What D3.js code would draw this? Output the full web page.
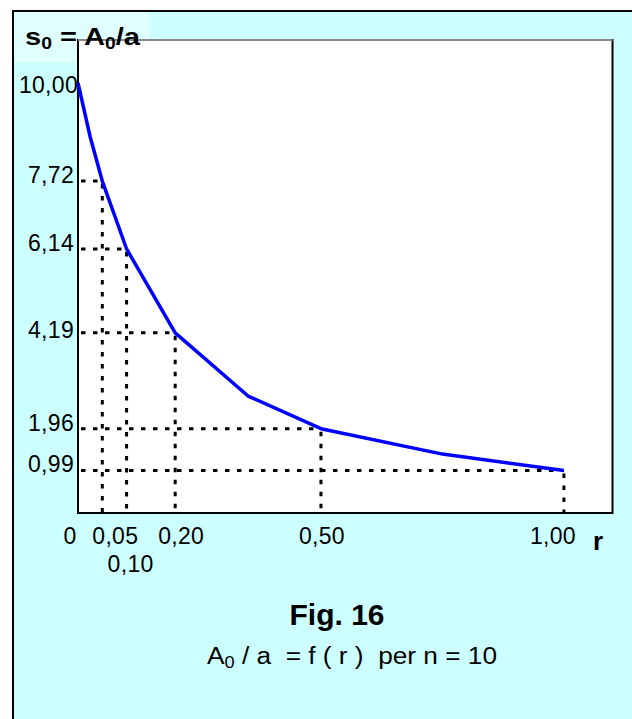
<!DOCTYPE html>
<html>
<head>
<meta charset="utf-8">
<script src="https://cdn.jsdelivr.net/npm/d3@7"></script>
<style>
  html, body { margin: 0; padding: 0; background: #ffffff; }
  svg { display: block; }
  text { font-family: Arial, "Liberation Sans", sans-serif; fill: #000; }
</style>
</head>
<body>
<svg id="chart" width="632" height="719"></svg>
<script>
// s0 = A0/a as a function of r, for n = 10
const rValues  = [0, 0.025, 0.05, 0.10, 0.20, 0.35, 0.50, 0.75, 1.00];
const s0Values = [10.00, 8.75, 7.72, 6.14, 4.19, 2.72, 1.96, 1.37, 0.99];

// points marked with dotted guide lines to both axes
const guideR = [0.05, 0.10, 0.20, 0.50, 1.00];

// axis labels
const yTickValues = [10.00, 7.72, 6.14, 4.19, 1.96, 0.99];
const yTickLabels = ["10,00", "7,72", "6,14", "4,19", "1,96", "0,99"];
const xTickValues = [0, 0.05, 0.10, 0.20, 0.50, 1.00];
const xTickLabels = ["0", "0,05", "0,10", "0,20", "0,50", "1,00"];

const svg = d3.select("#chart");
const W = 632, H = 719;
const plot = { left: 78, top: 40, right: 612.5, bottom: 513 };

const x = d3.scaleLinear().domain([0, 1.1]).range([plot.left, plot.right]);
const y = d3.scaleLinear().domain([0, 11]).range([plot.bottom, plot.top]);

// page background and frame
svg.append("rect").attr("x", 13).attr("y", 11).attr("width", W).attr("height", H)
  .attr("fill", "#ccffff");
svg.append("line").attr("x1", 12).attr("x2", W).attr("y1", 11).attr("y2", 11)
  .attr("stroke", "#000").attr("stroke-width", 2);
svg.append("line").attr("x1", 13).attr("x2", 13).attr("y1", 10).attr("y2", H)
  .attr("stroke", "#000").attr("stroke-width", 2);

// title box
svg.append("rect").attr("x", 14).attr("y", 12).attr("width", 136).attr("height", 50)
  .attr("fill", "#e0ffff");

// plot area
svg.append("rect")
  .attr("x", plot.left).attr("y", plot.top)
  .attr("width", plot.right - plot.left).attr("height", plot.bottom - plot.top)
  .attr("fill", "#ffffff").attr("stroke", "#000").attr("stroke-width", 2);
svg.append("line").attr("x1", plot.left).attr("x2", plot.right)
  .attr("y1", plot.top).attr("y2", plot.top)
  .attr("stroke", "#8a8a8a").attr("stroke-width", 2);

// dotted guides
const pts = rValues.map((r, i) => ({ r, v: s0Values[i] }));
const guidePts = pts.filter(p => guideR.includes(p.r));
const guides = svg.append("g")
  .attr("stroke", "#000").attr("stroke-width", 3).attr("stroke-dasharray", "4.5,7.5");
guides.selectAll("line.h").data(guidePts).join("line").attr("class", "h")
  .attr("x1", plot.left + 3).attr("x2", d => x(d.r))
  .attr("y1", d => y(d.v)).attr("y2", d => y(d.v));
guides.selectAll("line.v").data(guidePts).join("line").attr("class", "v")
  .attr("x1", d => x(d.r)).attr("x2", d => x(d.r))
  .attr("y1", d => y(d.v) + 3).attr("y2", plot.bottom - 1);

// curve
const line = d3.line().x(d => x(d.r)).y(d => y(d.v));
svg.append("path").datum(pts)
  .attr("d", line)
  .attr("fill", "none").attr("stroke", "#0000ff").attr("stroke-width", 3.5)
  .attr("stroke-linejoin", "round");

// y labels
const yNudge = { "10,00": 8, "4,19": 3 };
svg.append("g").selectAll("text").data(yTickValues).join("text")
  .attr("x", (d, i) => i === 0 ? 78 : 74)
  .attr("y", (d, i) => y(d) + 5 + (yNudge[yTickLabels[i]] || 0) - 3)
  .attr("text-anchor", "end")
  .attr("font-size", 23)
  .attr("letter-spacing", 0.3)
  .text((d, i) => yTickLabels[i]);

// x labels (0,10 drops to a second row)
const xNudge = { "0": -8, "0,05": 13, "0,10": 4, "0,20": 6, "0,50": 1, "1,00": -11 };
svg.append("g").selectAll("text").data(xTickValues).join("text")
  .attr("x", (d, i) => x(d) + xNudge[xTickLabels[i]])
  .attr("y", (d, i) => xTickLabels[i] === "0,10" ? 572 : 544)
  .attr("text-anchor", "middle")
  .attr("font-size", 23)
  .attr("letter-spacing", 0.3)
  .text((d, i) => xTickLabels[i]);

svg.append("text").attr("x", 593).attr("y", 550)
  .attr("font-size", 26).attr("font-weight", "bold").text("r");

// axis title
const t = svg.append("text").attr("x", 25).attr("y", 45)
  .attr("font-size", 24).attr("font-weight", "bold")
  .attr("textLength", 115).attr("lengthAdjust", "spacingAndGlyphs")
  .style("white-space", "pre");
t.append("tspan").text("s");
t.append("tspan").attr("font-size", 16).attr("dy", 4).text("0");
t.append("tspan").attr("dy", -4).text(" = A");
t.append("tspan").attr("font-size", 16).attr("dy", 4).text("0");
t.append("tspan").attr("dy", -4).text("/a");

// caption
svg.append("text").attr("x", 337).attr("y", 625).attr("text-anchor", "middle")
  .attr("font-size", 30).attr("font-weight", "bold").text("Fig. 16");
const c = svg.append("text").attr("x", 207).attr("y", 664)
  .attr("font-size", 23).style("white-space", "pre")
  .attr("textLength", 290).attr("lengthAdjust", "spacingAndGlyphs");
c.append("tspan").text("A");
c.append("tspan").attr("font-size", 16).attr("dy", 4).text("0");
c.append("tspan").attr("dy", -4).text(" / a  = f ( r )  per n = 10");
</script>
</body>
</html>
